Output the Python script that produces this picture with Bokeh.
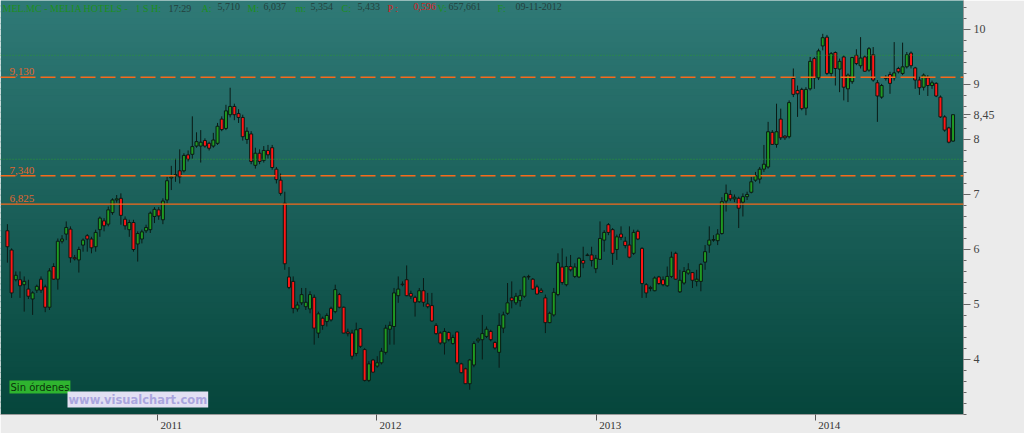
import numpy as np
import pandas as pd
from bokeh.plotting import figure
from bokeh.models import Range1d, ColumnDataSource, Label, Span, FixedTicker
from bokeh.embed import file_html
from bokeh.resources import INLINE

# ---------------- data (weekly candles, MEL.MC) ----------------
first_week = "2010-04-26"
opens = [
    6.34, 5.99, 5.45, 5.45, 5.36, 5.28, 5.10, 5.26, 5.46, 5.32, 4.95, 5.69, 5.46, 6.15, 6.28,
    6.37, 5.85, 5.81, 6.08, 6.25, 6.19, 6.05, 6.36, 6.52, 6.46, 6.67, 6.90, 6.93, 6.55, 6.36,
    6.49, 6.10, 6.19, 6.34, 6.36, 6.60, 6.72, 6.54, 6.90, 7.30, 7.34, 7.43, 7.43, 7.72, 7.73,
    7.88, 7.88, 7.98, 7.93, 7.88, 7.93, 8.37, 8.20, 8.45, 8.60, 8.47, 8.40, 8.00, 8.10, 7.53,
    7.75, 7.62, 7.80, 7.85, 7.46, 7.26, 6.84, 5.50, 5.42, 4.92, 5.03, 4.96, 4.92, 5.13, 4.48,
    4.75, 4.69, 4.93, 4.87, 5.18, 4.95, 4.50, 4.48, 4.11, 4.56, 4.18, 3.62, 3.99, 3.88, 3.94,
    4.13, 4.55, 4.60, 5.16, 5.37, 5.45, 5.20, 5.13, 5.05, 5.25, 5.01, 4.98, 4.62, 4.48, 4.30,
    4.49, 4.29, 4.50, 3.92, 3.83, 3.56, 3.90, 4.34, 4.36, 4.42, 4.51, 4.31, 4.13, 4.57, 4.84,
    5.12, 5.03, 5.07, 5.15, 5.51, 5.46, 5.32, 5.26, 5.12, 4.67, 4.81, 5.18, 5.68, 5.36, 5.69,
    5.51, 5.50, 5.80, 5.90, 5.90, 5.65, 5.82, 6.17, 6.45, 6.36, 6.00, 6.28, 6.15, 6.08, 5.93,
    6.33, 6.02, 5.36, 5.31, 5.25, 5.50, 5.45, 5.34, 5.51, 5.93, 5.23, 5.39, 5.57, 5.58, 5.42,
    5.42, 5.77, 6.08, 6.17, 6.16, 6.29, 6.88, 7.00, 6.92, 6.93, 6.86, 6.96, 7.04, 7.26, 7.28,
    7.46, 7.50, 8.13, 7.91, 8.37, 8.06, 8.05, 9.11, 8.89, 8.91, 8.57, 8.92, 9.47, 9.12, 9.70,
    9.86, 9.20, 9.58, 9.28, 9.50, 8.92, 9.05, 9.53, 9.34, 9.50, 9.26, 9.54, 9.03, 8.77, 9.12,
    9.18, 9.12, 9.29, 9.20, 9.32, 9.57, 9.30, 9.08, 8.95, 9.12, 8.98, 9.02, 8.77, 8.41, 8.21,
    7.97]
highs = [
    6.46, 6.02, 5.60, 5.60, 5.51, 5.45, 5.24, 5.36, 5.51, 5.36, 5.66, 5.75, 6.20, 6.26, 6.51,
    6.42, 5.90, 6.05, 6.20, 6.28, 6.23, 6.36, 6.60, 6.57, 6.78, 6.93, 6.99, 7.02, 6.60, 6.54,
    6.54, 6.33, 6.36, 6.45, 6.69, 6.77, 6.77, 6.93, 7.32, 7.52, 7.65, 7.82, 7.75, 7.80, 8.42,
    8.13, 8.17, 8.02, 7.96, 8.12, 8.30, 8.42, 8.63, 8.94, 8.65, 8.55, 8.45, 8.22, 8.15, 7.85,
    7.82, 7.88, 7.90, 7.90, 7.50, 7.38, 7.05, 5.68, 5.51, 5.05, 5.30, 5.30, 5.24, 5.18, 4.87,
    4.78, 4.84, 4.96, 5.36, 5.21, 4.96, 4.56, 4.54, 4.67, 4.57, 4.21, 3.97, 4.01, 4.06, 4.21,
    4.63, 4.69, 5.30, 5.51, 5.42, 5.71, 5.25, 5.16, 5.30, 5.48, 5.21, 5.21, 4.66, 4.51, 4.57,
    4.51, 4.45, 4.51, 3.94, 3.85, 4.01, 4.33, 4.40, 4.81, 4.60, 4.54, 4.33, 4.84, 4.87, 5.39,
    5.42, 5.21, 5.27, 5.52, 5.54, 5.48, 5.36, 5.30, 5.18, 4.87, 5.30, 5.93, 6.02, 5.87, 5.90,
    5.75, 5.86, 6.05, 5.93, 6.05, 5.90, 6.51, 6.35, 6.48, 6.39, 6.27, 6.42, 6.23, 6.42, 6.36,
    6.36, 6.04, 5.39, 5.34, 5.51, 5.52, 5.51, 5.69, 5.96, 5.96, 5.63, 5.68, 5.75, 5.58, 5.63,
    5.75, 6.08, 6.42, 6.26, 6.37, 6.95, 7.18, 7.08, 7.00, 6.96, 7.02, 7.05, 7.32, 7.41, 7.50,
    7.90, 8.32, 8.17, 8.65, 8.56, 8.08, 8.71, 9.29, 8.98, 8.94, 8.95, 9.50, 9.50, 9.65, 9.92,
    9.90, 9.59, 9.60, 9.47, 9.53, 9.20, 9.50, 9.64, 9.86, 9.53, 9.68, 9.68, 9.08, 9.01, 9.17,
    9.23, 9.77, 9.32, 9.76, 9.59, 9.60, 9.32, 9.14, 9.20, 9.17, 9.07, 9.04, 8.80, 8.44, 8.23,
    8.45]
lows = [
    5.76, 5.12, 5.42, 5.12, 4.87, 5.10, 4.81, 5.21, 5.21, 4.86, 4.90, 5.45, 5.27, 6.11, 6.17,
    5.76, 5.80, 5.58, 5.96, 5.96, 5.93, 5.96, 6.23, 6.33, 6.42, 6.63, 6.85, 6.45, 6.36, 6.23,
    5.96, 5.78, 6.11, 6.30, 6.30, 6.48, 6.54, 6.46, 6.84, 7.08, 7.23, 7.20, 7.40, 7.60, 7.65,
    7.85, 7.58, 7.85, 7.80, 7.85, 7.90, 8.15, 8.17, 8.40, 8.35, 8.30, 7.98, 7.92, 7.55, 7.47,
    7.55, 7.58, 7.65, 7.45, 7.20, 6.98, 5.63, 5.28, 4.84, 4.87, 4.99, 4.90, 4.84, 4.27, 4.39,
    4.54, 4.60, 4.69, 4.84, 4.93, 4.48, 4.42, 4.00, 4.06, 4.21, 3.60, 3.59, 3.76, 3.85, 3.91,
    4.09, 4.27, 4.27, 5.03, 5.33, 5.15, 5.10, 4.78, 5.03, 4.96, 4.93, 4.69, 4.45, 4.27, 4.09,
    4.33, 4.27, 3.91, 3.75, 3.56, 3.45, 3.86, 4.30, 4.00, 4.39, 4.33, 4.18, 3.85, 4.48, 4.81,
    4.93, 4.99, 4.96, 5.12, 5.45, 5.27, 5.18, 5.21, 4.48, 4.66, 4.78, 5.15, 5.36, 5.33, 5.60,
    5.48, 5.48, 5.66, 5.88, 5.69, 5.57, 5.81, 5.96, 6.26, 5.72, 5.81, 6.17, 6.02, 5.84, 5.90,
    6.17, 5.12, 5.12, 5.24, 5.24, 5.36, 5.33, 5.32, 5.48, 5.45, 5.21, 5.36, 5.54, 5.30, 5.33,
    5.24, 5.63, 5.94, 6.14, 6.08, 6.27, 6.69, 6.88, 6.86, 6.39, 6.60, 6.90, 7.02, 7.23, 7.20,
    7.41, 7.47, 7.90, 7.85, 7.99, 7.99, 8.02, 8.77, 8.41, 8.53, 8.44, 8.89, 8.92, 9.08, 9.62,
    9.17, 9.14, 8.98, 8.86, 8.71, 8.68, 9.01, 9.35, 9.29, 9.23, 9.23, 9.05, 8.32, 8.74, 9.07,
    8.83, 9.07, 9.20, 9.17, 9.29, 9.29, 8.92, 8.81, 8.89, 8.79, 8.92, 8.77, 8.39, 8.14, 7.93,
    7.96]
closes = [
    6.05, 5.21, 5.53, 5.34, 5.42, 5.15, 5.21, 5.33, 5.26, 4.95, 5.61, 5.46, 6.15, 6.19, 6.40,
    5.85, 5.83, 6.00, 6.17, 6.19, 6.03, 6.31, 6.57, 6.43, 6.72, 6.90, 6.92, 6.62, 6.43, 6.49,
    6.00, 6.29, 6.32, 6.40, 6.66, 6.73, 6.61, 6.88, 7.25, 7.32, 7.36, 7.32, 7.71, 7.64, 7.87,
    7.96, 7.95, 7.88, 7.84, 7.99, 8.24, 8.18, 8.52, 8.60, 8.45, 8.40, 8.05, 8.15, 7.60, 7.75,
    7.60, 7.80, 7.72, 7.49, 7.27, 7.02, 5.74, 5.31, 4.93, 4.99, 5.18, 5.04, 5.18, 4.57, 4.83,
    4.62, 4.80, 4.72, 5.27, 4.95, 4.48, 4.47, 4.06, 4.54, 4.24, 3.62, 3.92, 3.77, 3.94, 4.15,
    4.57, 4.62, 5.21, 5.28, 5.36, 5.16, 5.15, 5.04, 5.25, 5.04, 4.96, 4.70, 4.47, 4.30, 4.51,
    4.36, 4.40, 3.94, 3.76, 3.56, 3.99, 4.29, 4.37, 4.47, 4.55, 4.36, 4.21, 4.62, 4.81, 5.03,
    5.07, 5.15, 5.16, 5.50, 5.50, 5.28, 5.19, 5.22, 4.67, 4.84, 5.22, 5.76, 5.40, 5.69, 5.63,
    5.68, 5.84, 5.75, 5.89, 5.80, 5.84, 6.20, 6.31, 6.31, 5.93, 6.23, 6.22, 6.07, 5.86, 6.31,
    6.19, 5.38, 5.21, 5.29, 5.48, 5.38, 5.36, 5.51, 5.86, 5.46, 5.44, 5.60, 5.63, 5.44, 5.46,
    5.73, 5.96, 6.17, 6.18, 6.28, 6.87, 7.02, 6.92, 6.95, 6.75, 6.96, 7.00, 7.23, 7.34, 7.46,
    7.55, 8.14, 7.91, 8.14, 8.03, 8.03, 8.67, 8.82, 8.83, 8.56, 8.91, 9.42, 9.12, 9.61, 9.85,
    9.20, 9.56, 9.29, 9.42, 8.95, 9.17, 9.49, 9.38, 9.48, 9.24, 9.65, 9.08, 8.79, 8.98, 9.11,
    9.02, 9.21, 9.23, 9.32, 9.54, 9.34, 9.08, 8.94, 9.17, 8.98, 9.03, 8.79, 8.41, 8.17, 7.95,
    8.45]

levels = [9.130, 7.340, 6.825]
level_texts = ["9,130", "7,340", "6,825"]
dotted_levels = [9.53, 7.64]
years = [2011, 2012, 2013, 2014]
price_ticks = [4, 5, 6, 7, 8, 9, 10]
header_texts = ["MEL.MC - MELIA HOTELS -", "1 S  H:", "17:29", "A:", "5,710", "M:", "6,037",
                "m:", "5,354", "C:", "5,433", "P :", "0,596", "V:", "657,661", "F:", "09-11-2012"]

# ---------------- styles ----------------
header_x = [2, 135, 168, 201, 217, 247, 263, 295, 310, 341, 357, 387, 413, 437, 448, 497, 515]
header_kind = ["g", "g", "v", "g", "v", "g", "v", "g", "v", "g", "v", "r", "r", "g", "v", "g", "v"]
kind_color = {"g": "#1c8f1c", "v": "#23403c", "r": "#d81e1e"}
level_dash = ["15 5", "15 5", "solid"]
level_width = [1.6, 1.6, 1.2]
ORANGE = "#f66a1c"
NARROW = "Liberation Sans Narrow"

dates = pd.date_range(first_week, periods=len(opens), freq="7D")
o = np.array(opens); c = np.array(closes)
src = ColumnDataSource(dict(
    date=dates, high=highs, low=lows,
    top=np.maximum(o, c), bottom=np.minimum(o, c),
    color=["#1f9a22" if cc >= oo else "#ff1616" for oo, cc in zip(opens, closes)],
))

x0 = pd.Timestamp("2010-04-14 12:14")
x1 = pd.Timestamp("2014-09-04 10:00")
y0, y1 = 3.0, 10.526

p = figure(width=1024, height=433, x_axis_type="datetime", y_axis_location="right",
           x_range=Range1d(x0, x1), y_range=Range1d(y0, y1),
           output_backend="svg", toolbar_location=None,
           min_border_left=0, min_border_top=0, min_border_right=61, min_border_bottom=18)
p.border_fill_color = "#ebebeb"
p.outline_line_color = None
p.grid.grid_line_color = None

# background gradient (style only)
n = 70
edges = np.linspace(y0, y1, n + 1)
bot_rgb = np.array([6, 70, 60]); top_rgb = np.array([48, 122, 119])
cols = []
for k in range(n):
    t = (k + 0.5) / n
    r, g, b = (bot_rgb + (top_rgb - bot_rgb) * t).astype(int)
    cols.append(f"#{r:02x}{g:02x}{b:02x}")
p.quad(left=[x0] * n, right=[x1] * n, bottom=edges[:-1], top=edges[1:] + 0.02,
       fill_color=cols, line_color=None)

# level lines
for lv, dash, lw in zip(levels, level_dash, level_width):
    p.add_layout(Span(location=lv, dimension="width", line_color=ORANGE, line_width=lw,
                      line_dash=dash))
for lv in dotted_levels:
    p.add_layout(Span(location=lv, dimension="width", line_color="#2a9a32", line_width=1,
                      line_dash="1 2"))
for lv, txt in zip(levels, level_texts):
    p.add_layout(Label(x=9, y=lv, x_units="screen", y_units="data", text=txt,
                       text_baseline="bottom", y_offset=2, text_color="#e2662e",
                       text_font=NARROW, text_font_size="11px"))

# candles
p.segment("date", "high", "date", "low", source=src, line_color="#0a1a16", line_width=1)
p.vbar(x="date", width=5 * 24 * 3600 * 1000, top="top", bottom="bottom", source=src,
       fill_color="color", line_color="#0a1a14", line_width=1)

# right price axis (last close shown as an extra tick, like the original tag)
last_price = closes[-1]
last_txt = f"{last_price:.2f}".replace(".", ",")
minor = [round(v, 1) for v in np.arange(3.0, 10.6, 0.2)]
p.yaxis.ticker = FixedTicker(ticks=price_ticks + [last_price], minor_ticks=minor)
p.yaxis.major_label_overrides = {last_price: last_txt}
p.yaxis.axis_line_color = "#9a9a9a"
p.yaxis.major_tick_line_color = "#666666"
p.yaxis.minor_tick_line_color = "#666666"
p.yaxis.major_tick_out = 7
p.yaxis.major_tick_in = 0
p.yaxis.minor_tick_out = 3
p.yaxis.minor_tick_in = 0
p.yaxis.major_label_standoff = 3
p.yaxis.major_label_text_font = NARROW
p.yaxis.major_label_text_font_size = "12px"
p.yaxis.major_label_text_color = "#444444"

year_ticks = [pd.Timestamp(f"{y}-01-01").value // 10**6 for y in years]
p.xaxis.ticker = FixedTicker(ticks=year_ticks, minor_ticks=[])
p.xaxis.major_label_overrides = {t: "\u00a0" * 10 + str(y) for t, y in zip(year_ticks, years)}
p.xaxis.axis_line_color = "#9a9a9a"
p.xaxis.major_tick_line_color = "#555555"
p.xaxis.major_tick_out = 6
p.xaxis.major_tick_in = 0
p.xaxis.major_label_standoff = -2
p.xaxis.major_label_text_font = NARROW
p.xaxis.major_label_text_font_size = "11px"
p.xaxis.major_label_text_color = "#333333"

# header
for txt, hx, kd in zip(header_texts, header_x, header_kind):
    p.add_layout(Label(x=hx, y=y1, x_units="screen", y_units="data", text=txt,
                       text_baseline="top", y_offset=-2, text_color=kind_color[kd],
                       text_font=NARROW, text_font_size="10px"))

# bottom-left boxes
p.add_layout(Label(x=9, y=21, x_units="screen", y_units="screen", text="Sin órdenes",
                   text_baseline="bottom", text_color="#0a330a", text_font="DejaVu Sans",
                   text_font_size="10px", background_fill_color="#2fb42f", padding=1))
p.add_layout(Label(x=67, y=7, x_units="screen", y_units="screen", text="www.visualchart.com",
                   text_baseline="bottom", text_color="#aaa6de", text_font="DejaVu Sans",
                   text_font_style="bold", text_font_size="11.5px",
                   background_fill_color="#e2e0f3", padding=1))

open("out.html", "w").write(file_html(p, INLINE))
